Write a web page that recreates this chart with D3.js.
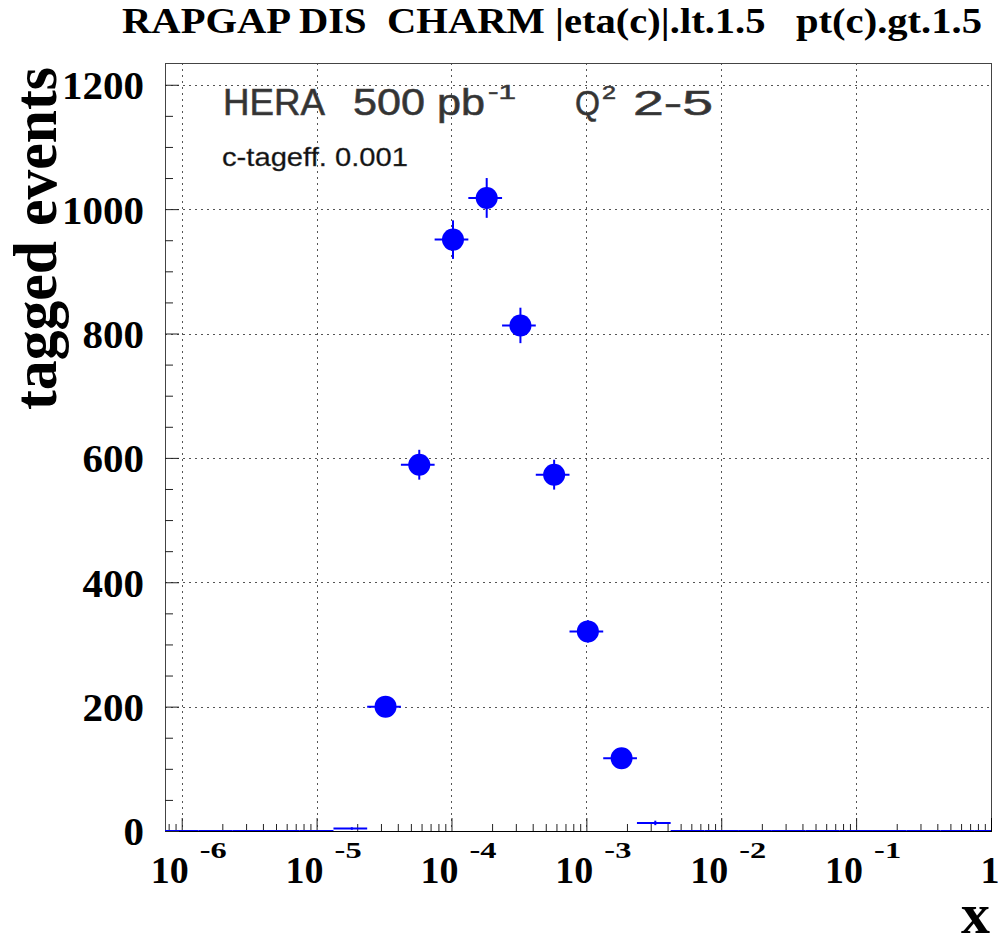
<!DOCTYPE html>
<html>
<head>
<meta charset="utf-8">
<script src="https://cdn.jsdelivr.net/npm/d3@7"></script>
<style>
  html, body { margin: 0; padding: 0; background: #fff; }
  svg { display: block; }
  text { white-space: pre; }
</style>
</head>
<body>
<svg id="chart" width="998" height="937"></svg>
<script>
// ---------------- data ----------------
const binCentersLog10 = [-6, -5.75, -5.5, -5.25, -5, -4.75, -4.5, -4.25, -4, -3.75, -3.5, -3.25, -3, -2.75, -2.5,
                         -2.25, -2, -1.75, -1.5, -1.25, -1, -0.75, -0.5, -0.25, 0];
const taggedEvents   = [0, 0, 0, 0, 0, 4, 200, 589, 951, 1018, 813, 573, 321, 117, 13,
                         0, 0, 0, 0, 0, 0, 0, 0, 0, 0];
const eventErrors    = [0, 0, 0, 0, 0, 2, 14, 24, 31, 32, 28.5, 24, 18, 11, 3.6,
                         0, 0, 0, 0, 0, 0, 0, 0, 0, 0];
const binHalfWidthLog10 = 0.125;
const xDecadeExponents = [-6, -5, -4, -3, -2, -1];
const yMajorTicks = [0, 200, 400, 600, 800, 1000, 1200];
const yMinorTicks = [50, 100, 150, 250, 300, 350, 450, 500, 550, 650, 700, 750, 850, 900, 950, 1050, 1100, 1150];
const titleText = "RAPGAP DIS  CHARM |eta(c)|.lt.1.5   pt(c).gt.1.5";
const yTitle = "tagged events";
const xTitle = "x";
const xDomain = [Math.pow(10, -6.124), 1];
const yDomain = [0, 1235];
const markerMinCount = 50;

// ---------------- layout ----------------
const svg = d3.select("#chart");
const L = 165, R = 991, T = 63, B = 831;
const x = d3.scaleLog().domain(xDomain).range([L, R]);
const y = d3.scaleLinear().domain(yDomain).range([B, T]);
const blue = "#0000ff";
const serif = "'Liberation Serif', 'Times New Roman', serif";
const sans = "'Liberation Sans', Arial, sans-serif";

// grid
const grid = svg.append("g").attr("stroke", "#555").attr("stroke-width", 1).attr("stroke-dasharray", "2,4");
grid.selectAll("line.vx").data(xDecadeExponents).enter().append("line")
  .attr("x1", d => Math.round(x(Math.pow(10, d))) + 0.5).attr("x2", d => Math.round(x(Math.pow(10, d))) + 0.5)
  .attr("y1", T).attr("y2", B);
grid.selectAll("line.hy").data(yMajorTicks.filter(v => v > 0)).enter().append("line")
  .attr("x1", L).attr("x2", R)
  .attr("y1", d => Math.round(y(d)) + 0.5).attr("y2", d => Math.round(y(d)) + 0.5);

// frame
svg.append("rect").attr("x", L + 0.5).attr("y", T + 0.5).attr("width", R - L).attr("height", B - T)
  .attr("fill", "none").attr("stroke", "#444").attr("stroke-width", 1);

// x axis ticks (major + minor)
const xMinor = [];
xDecadeExponents.concat([-7]).forEach(e => { for (let m = 2; m <= 9; m++) { const v = m * Math.pow(10, e); if (v > xDomain[0] && v < 1) xMinor.push(v); } });
const xAxisMajor = d3.axisBottom(x).tickValues(xDecadeExponents.map(e => Math.pow(10, e))).tickSize(-13).tickFormat("");
const xAxisMinor = d3.axisBottom(x).tickValues(xMinor).tickSize(-7).tickFormat("");
[xAxisMajor, xAxisMinor].forEach(ax => {
  const g = svg.append("g").attr("transform", `translate(0,${B})`).call(ax);
  g.select(".domain").attr("stroke", "#000");
  g.selectAll(".tick line").attr("stroke", "#222");
});

// y axis ticks
const yAxisMajor = d3.axisLeft(y).tickValues(yMajorTicks).tickSize(-14).tickPadding(21).tickFormat(d3.format("d"));
const yAxisMinor = d3.axisLeft(y).tickValues(yMinorTicks).tickSize(-8).tickFormat("");
const gy = svg.append("g").attr("transform", `translate(${L},0)`).call(yAxisMajor);
gy.select(".domain").attr("stroke", "#444");
gy.selectAll(".tick line").attr("stroke", "#222");
gy.selectAll(".tick text").attr("font-family", serif).attr("font-weight", "bold").attr("font-size", 41)
  .attr("fill", "#000").attr("dy", "0.34em");
const gym = svg.append("g").attr("transform", `translate(${L},0)`).call(yAxisMinor);
gym.select(".domain").remove();
gym.selectAll(".tick line").attr("stroke", "#222");

// x tick labels 10^n
const xl = svg.append("g");
xDecadeExponents.forEach(e => {
  const px = x(Math.pow(10, e));
  xl.append("text").attr("x", px + 7).attr("y", 883).attr("text-anchor", "end")
    .attr("font-family", serif).attr("font-weight", "bold").attr("font-size", 38).text("10");
  xl.append("text").attr("x", px + 18).attr("y", 858)
    .attr("font-family", serif).attr("font-weight", "bold").attr("font-size", 24)
    .attr("textLength", 27).attr("lengthAdjust", "spacingAndGlyphs").text(String(e));
});
xl.append("text").attr("x", x(1) - 1).attr("y", 883).attr("text-anchor", "middle")
  .attr("font-family", serif).attr("font-weight", "bold").attr("font-size", 38).text("1");

// titles
svg.append("text").attr("x", 122).attr("y", 33).attr("font-family", serif).attr("font-weight", "bold")
  .attr("font-size", 36).attr("textLength", 860).attr("lengthAdjust", "spacingAndGlyphs").text(titleText);
svg.append("text").attr("transform", "translate(56,410) rotate(-90)").attr("font-family", serif)
  .attr("font-weight", "bold").attr("font-size", 61).attr("textLength", 343).attr("lengthAdjust", "spacingAndGlyphs")
  .text(yTitle);
svg.append("text").attr("x", 990).attr("y", 933).attr("text-anchor", "end").attr("font-family", serif)
  .attr("font-weight", "bold").attr("font-size", 58).text(xTitle);

// annotations
const ann = svg.append("g").attr("font-family", sans).attr("fill", "#333").attr("stroke", "#444").attr("stroke-width", 0.6);
ann.append("text").attr("x", 223).attr("y", 115).attr("font-size", 37).attr("textLength", 102).attr("lengthAdjust", "spacingAndGlyphs").text("HERA");
ann.append("text").attr("x", 353).attr("y", 115).attr("font-size", 37).attr("textLength", 132).attr("lengthAdjust", "spacingAndGlyphs").text("500 pb");
ann.append("text").attr("x", 488).attr("y", 99).attr("font-size", 21).attr("textLength", 28).attr("lengthAdjust", "spacingAndGlyphs").text("-1");
ann.append("text").attr("x", 575).attr("y", 115).attr("font-size", 35).attr("textLength", 25).attr("lengthAdjust", "spacingAndGlyphs").text("Q");
ann.append("text").attr("x", 602).attr("y", 99).attr("font-size", 19).attr("textLength", 14).attr("lengthAdjust", "spacingAndGlyphs").text("2");
ann.append("text").attr("x", 633).attr("y", 115).attr("font-size", 35).attr("textLength", 80).attr("lengthAdjust", "spacingAndGlyphs").text("2-5");
ann.append("text").attr("x", 222).attr("y", 166).attr("font-size", 25).attr("stroke-width", 0.3).attr("fill", "#111")
  .attr("textLength", 186).attr("lengthAdjust", "spacingAndGlyphs").text("c-tageff. 0.001");

// data
svg.append("clipPath").attr("id", "plotclip").append("rect").attr("x", L).attr("y", T - 5).attr("width", R - L).attr("height", B - T + 5);
const bins = binCentersLog10.map((c, i) => ({ c, v: taggedEvents[i], e: eventErrors[i] }));
const dg = svg.append("g").attr("clip-path", "url(#plotclip)");
dg.selectAll("line.h").data(bins).enter().append("line")
  .attr("x1", d => x(Math.pow(10, d.c - binHalfWidthLog10))).attr("x2", d => x(Math.pow(10, d.c + binHalfWidthLog10)))
  .attr("y1", d => y(d.v)).attr("y2", d => y(d.v)).attr("stroke", blue).attr("stroke-width", 2);
dg.selectAll("line.v").data(bins.filter(d => d.e > 0)).enter().append("line")
  .attr("x1", d => x(Math.pow(10, d.c)) + 1.5).attr("x2", d => x(Math.pow(10, d.c)) + 1.5)
  .attr("y1", d => y(d.v - d.e)).attr("y2", d => y(d.v + d.e)).attr("stroke", blue).attr("stroke-width", 2);
dg.selectAll("circle").data(bins.filter(d => d.v >= markerMinCount)).enter().append("circle")
  .attr("cx", d => x(Math.pow(10, d.c)) + 1.5).attr("cy", d => y(d.v)).attr("r", 11).attr("fill", blue);
</script>
</body>
</html>
